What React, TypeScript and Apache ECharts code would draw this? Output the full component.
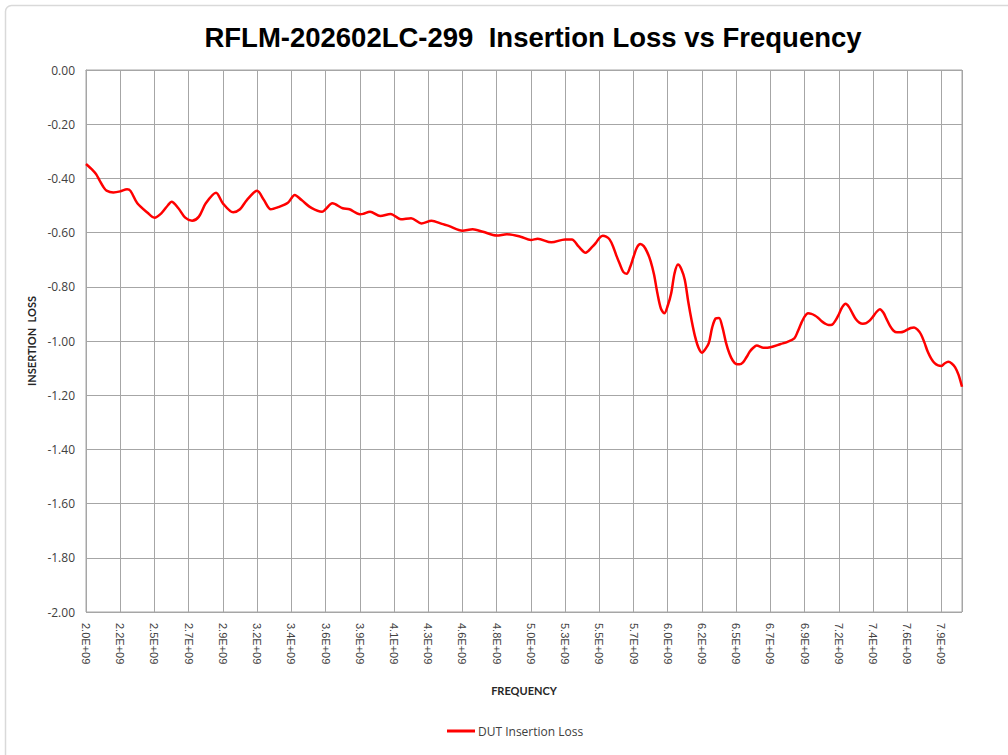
import React, { useEffect, useRef } from 'react';
import * as echarts from 'echarts';

const TITLE = 'RFLM-202602LC-299  Insertion Loss vs Frequency';
const X_NAME = 'FREQUENCY';
const Y_NAME = 'INSERTION  LOSS';
const SERIES_NAME = 'DUT Insertion Loss';

// one tick label every 10 samples (257 samples, index 0..256)
const TICK_LABELS = [
  '2.0E+09', '2.2E+09', '2.5E+09', '2.7E+09', '2.9E+09', '3.2E+09', '3.4E+09', '3.6E+09',
  '3.9E+09', '4.1E+09', '4.3E+09', '4.6E+09', '4.8E+09', '5.0E+09', '5.3E+09', '5.5E+09',
  '5.7E+09', '6.0E+09', '6.2E+09', '6.5E+09', '6.7E+09', '6.9E+09', '7.2E+09', '7.4E+09',
  '7.6E+09', '7.9E+09',
];
const SAMPLES_PER_LABEL = 10;
const LAST_SAMPLE = 256;

const SAMPLE_INDEX = [
  0, 2, 3, 4, 5, 6, 8, 10, 12, 13, 15, 18, 20, 22, 24, 25, 27, 29, 31, 33,
  35, 38, 40, 43, 45, 47, 50, 52, 54, 56, 59, 61, 63, 66, 69, 70, 72, 75, 77, 80,
  81, 83, 86, 89, 92, 95, 98, 101, 104, 106, 110, 113, 116, 120, 123, 127, 130, 132, 136, 140,
  142, 144, 146, 148, 149, 150, 151, 152, 153, 154, 155, 156, 157, 158, 159, 160, 161, 162, 163, 164,
  165, 166, 167, 168, 169, 170, 171, 172, 173, 174, 175, 176, 177, 178, 179, 180, 181, 182, 183, 184,
  185, 186, 187, 188, 189, 190, 191, 192, 193, 194, 195, 196, 198, 200, 203, 205, 207, 208, 209, 210,
  211, 212, 213, 214, 215, 216, 217, 218, 219, 220, 221, 222, 223, 224, 225, 226, 227, 228, 229, 230,
  231, 232, 233, 234, 235, 236, 237, 238, 239, 240, 241, 242, 243, 244, 245, 246, 247, 248, 249, 250,
  251, 252, 253, 254, 255, 256,
];
const LOSS_DB = [
  -0.347, -0.370, -0.385, -0.408, -0.430, -0.445, -0.452, -0.448, -0.440, -0.446,
  -0.492, -0.527, -0.545, -0.529, -0.498, -0.486, -0.510, -0.545, -0.556, -0.541,
  -0.492, -0.453, -0.492, -0.525, -0.514, -0.480, -0.446, -0.480, -0.514, -0.507,
  -0.490, -0.461, -0.480, -0.510, -0.523, -0.514, -0.492, -0.510, -0.514, -0.532,
  -0.531, -0.523, -0.539, -0.531, -0.551, -0.547, -0.566, -0.556, -0.568, -0.575,
  -0.593, -0.588, -0.597, -0.611, -0.606, -0.615, -0.627, -0.623, -0.636, -0.625,
  -0.625, -0.652, -0.674, -0.652, -0.638, -0.620, -0.612, -0.615, -0.625, -0.650,
  -0.685, -0.716, -0.745, -0.752, -0.728, -0.690, -0.655, -0.642, -0.650, -0.672,
  -0.705, -0.755, -0.825, -0.880, -0.898, -0.870, -0.825, -0.750, -0.718, -0.735,
  -0.775, -0.855, -0.925, -0.984, -1.025, -1.043, -1.030, -1.008, -0.950, -0.917,
  -0.915, -0.950, -1.005, -1.045, -1.072, -1.085, -1.086, -1.079, -1.060, -1.039,
  -1.025, -1.017, -1.025, -1.023, -1.011, -1.003, -0.990, -0.965, -0.935, -0.910,
  -0.898, -0.900, -0.906, -0.915, -0.927, -0.936, -0.941, -0.940, -0.925, -0.902,
  -0.875, -0.863, -0.875, -0.898, -0.920, -0.932, -0.936, -0.934, -0.925, -0.910,
  -0.893, -0.883, -0.895, -0.920, -0.945, -0.962, -0.968, -0.968, -0.965, -0.958,
  -0.952, -0.950, -0.958, -0.975, -1.005, -1.040, -1.065, -1.082, -1.090, -1.092,
  -1.082, -1.077, -1.083, -1.097, -1.125, -1.169,
];

const Y_MIN = -2;
const Y_MAX = 0;
const Y_STEP = 0.2;

export default function App() {
  const ref = useRef<HTMLDivElement>(null);

  useEffect(() => {
    if (!ref.current) return;
    const chart = echarts.init(ref.current, undefined, { renderer: 'svg' });
    const data = SAMPLE_INDEX.map((x, i) => [x, LOSS_DB[i]]);
    const gridColor = '#a6a6a6';
    const labelColor = '#404040';

    chart.setOption({
      animation: false,
      backgroundColor: '#ffffff',
      title: {
        text: TITLE,
        left: 528,
        top: 18,
        textAlign: 'center',
        textStyle: {
          fontFamily: 'Liberation Sans, Arial, sans-serif',
          fontWeight: 'bold',
          fontSize: 27.5,
          color: '#000000',
        },
      },
      graphic: [
        {
          type: 'rect',
          shape: { x: 5.5, y: 5.5, width: 1200, height: 1000, r: 6 },
          style: { fill: 'none', stroke: '#d9d9d9', lineWidth: 1.5 },
          silent: true,
        },
      ],
      legend: {
        data: [SERIES_NAME],
        left: 447,
        top: 725,
        padding: 0,
        icon: 'rect',
        itemWidth: 28,
        itemHeight: 3,
        textStyle: {
          fontFamily: 'Open Sans, sans-serif',
          fontSize: 12,
          color: labelColor,
          padding: [0, 0, 0, -2],
        },
      },
      grid: {
        left: 86,
        top: 70,
        right: 46,
        bottom: 143,
        show: true,
        borderColor: gridColor,
        borderWidth: 1,
        containLabel: false,
      },
      xAxis: {
        type: 'value',
        min: 0,
        max: LAST_SAMPLE,
        interval: SAMPLES_PER_LABEL,
        name: X_NAME,
        nameLocation: 'middle',
        nameGap: 73,
        nameTextStyle: {
          fontFamily: 'Lato, Open Sans, sans-serif',
          fontWeight: 'bold',
          fontSize: 11,
          color: '#262626',
        },
        axisLine: { show: true, lineStyle: { color: gridColor, width: 1 } },
        axisTick: { show: false },
        splitLine: { show: true, lineStyle: { color: gridColor, width: 1 } },
        axisLabel: {
          rotate: -90,
          margin: 11,
          showMaxLabel: false,
          fontFamily: 'Liberation Sans, Arial, sans-serif',
          fontSize: 11,
          color: labelColor,
          formatter: (v: number) => {
            if (v % SAMPLES_PER_LABEL !== 0) return '';
            return TICK_LABELS[v / SAMPLES_PER_LABEL] ?? '';
          },
        },
      },
      yAxis: {
        type: 'value',
        min: Y_MIN,
        max: Y_MAX,
        interval: Y_STEP,
        name: Y_NAME,
        nameLocation: 'middle',
        nameGap: 48,
        nameRotate: 90,
        nameTextStyle: {
          fontFamily: 'Lato, Open Sans, sans-serif',
          fontWeight: 'bold',
          fontSize: 11,
          color: '#262626',
        },
        axisLine: { show: true, lineStyle: { color: gridColor, width: 1 } },
        axisTick: { show: false },
        splitLine: { show: true, lineStyle: { color: gridColor, width: 1 } },
        axisLabel: {
          margin: 11,
          fontFamily: 'Open Sans, sans-serif',
          fontSize: 12,
          color: labelColor,
          formatter: (v: number) => v.toFixed(2),
        },
      },
      series: [
        {
          name: SERIES_NAME,
          type: 'line',
          data,
          smooth: 0.3,
          showSymbol: false,
          symbol: 'none',
          lineStyle: { color: '#ff0000', width: 2.5 },
          itemStyle: { color: '#ff0000' },
        },
      ],
    });

    return () => chart.dispose();
  }, []);

  return (
    <div
      ref={ref}
      style={{ position: 'fixed', left: 0, top: 0, width: 1008, height: 755, background: '#fff' }}
    />
  );
}
